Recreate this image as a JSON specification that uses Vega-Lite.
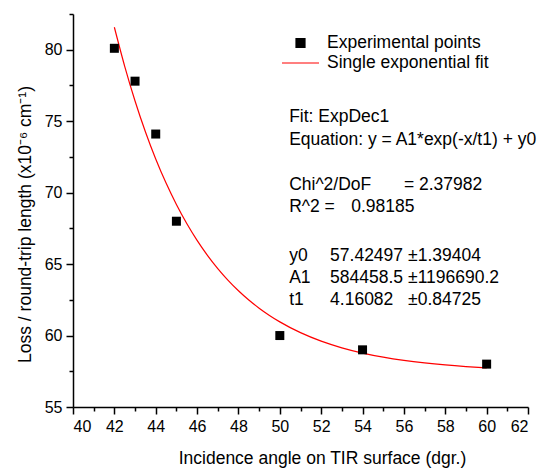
{
  "$schema": "https://vega.github.io/schema/vega-lite/v6.json",
  "width": 455,
  "height": 393,
  "autosize": {"type": "none"},
  "padding": {"left": 73, "top": 14, "right": 18, "bottom": 62},
  "background": "white",
  "config": {
    "view": {"stroke": null},
    "font": "Liberation Sans",
    "axis": {
      "grid": false,
      "domainColor": "black",
      "domainWidth": 1.5,
      "tickColor": "black",
      "tickWidth": 1.5,
      "labelColor": "black",
      "titleColor": "black",
      "labelFont": "Liberation Sans",
      "titleFont": "Liberation Sans",
      "labelFontSize": 16,
      "titleFontSize": 17.5,
      "titleFontWeight": "normal"
    },
    "legend": {
      "padding": 0,
      "labelFont": "Liberation Sans",
      "labelFontSize": 17.5,
      "labelColor": "black",
      "labelOffset": 7,
      "labelLimit": 0,
      "clipHeight": 18,
      "rowPadding": 2,
      "symbolStrokeWidth": 1.2
    }
  },
  "datasets": {
    "points": [
      {"x": 42, "y": 80.1, "series": "Experimental points"},
      {"x": 43, "y": 77.8, "series": "Experimental points"},
      {"x": 44, "y": 74.1, "series": "Experimental points"},
      {"x": 45, "y": 68.0, "series": "Experimental points"},
      {"x": 50, "y": 60.0, "series": "Experimental points"},
      {"x": 54, "y": 59.0, "series": "Experimental points"},
      {"x": 60, "y": 58.0, "series": "Experimental points"}
    ],
    "fit": [
      {"x": 42, "y": 81.574, "series": "Single exponential fit"},
      {"x": 42.5, "y": 78.84, "series": "Single exponential fit"},
      {"x": 43, "y": 76.415, "series": "Single exponential fit"},
      {"x": 43.5, "y": 74.265, "series": "Single exponential fit"},
      {"x": 44, "y": 72.358, "series": "Single exponential fit"},
      {"x": 44.5, "y": 70.667, "series": "Single exponential fit"},
      {"x": 45, "y": 69.168, "series": "Single exponential fit"},
      {"x": 45.5, "y": 67.838, "series": "Single exponential fit"},
      {"x": 46, "y": 66.659, "series": "Single exponential fit"},
      {"x": 46.5, "y": 65.614, "series": "Single exponential fit"},
      {"x": 47, "y": 64.686, "series": "Single exponential fit"},
      {"x": 47.5, "y": 63.864, "series": "Single exponential fit"},
      {"x": 48, "y": 63.135, "series": "Single exponential fit"},
      {"x": 48.5, "y": 62.489, "series": "Single exponential fit"},
      {"x": 49, "y": 61.915, "series": "Single exponential fit"},
      {"x": 49.5, "y": 61.407, "series": "Single exponential fit"},
      {"x": 50, "y": 60.956, "series": "Single exponential fit"},
      {"x": 51, "y": 60.202, "series": "Single exponential fit"},
      {"x": 52, "y": 59.608, "series": "Single exponential fit"},
      {"x": 53, "y": 59.142, "series": "Single exponential fit"},
      {"x": 54, "y": 58.775, "series": "Single exponential fit"},
      {"x": 55, "y": 58.487, "series": "Single exponential fit"},
      {"x": 56, "y": 58.26, "series": "Single exponential fit"},
      {"x": 57, "y": 58.082, "series": "Single exponential fit"},
      {"x": 58, "y": 57.941, "series": "Single exponential fit"},
      {"x": 59, "y": 57.831, "series": "Single exponential fit"},
      {"x": 60, "y": 57.744, "series": "Single exponential fit"}
    ],
    "notes": [
      {"text": "Fit: ExpDec1", "x": 50.45, "y": 75.3},
      {"text": "Equation: y = A1*exp(-x/t1) + y0", "x": 50.45, "y": 73.7},
      {"text": "Chi^2/DoF", "x": 50.45, "y": 70.55},
      {"text": "= 2.37982", "x": 56.0, "y": 70.55},
      {"text": "R^2 =", "x": 50.45, "y": 69.0},
      {"text": "0.98185", "x": 53.45, "y": 69.0},
      {"text": "y0", "x": 50.45, "y": 65.57},
      {"text": "57.42497", "x": 52.43, "y": 65.57},
      {"text": "±1.39404", "x": 56.2, "y": 65.57},
      {"text": "A1", "x": 50.45, "y": 64.03},
      {"text": "584458.5", "x": 52.43, "y": 64.03},
      {"text": "±1196690.2", "x": 56.2, "y": 64.03},
      {"text": "t1", "x": 50.45, "y": 62.49},
      {"text": "4.16082", "x": 52.43, "y": 62.49},
      {"text": "±0.84725", "x": 56.2, "y": 62.49}
    ]
  },
  "encoding": {
    "x": {
      "field": "x",
      "type": "quantitative",
      "scale": {"domain": [40, 62], "nice": false, "zero": false},
      "axis": {
        "title": "Incidence angle on TIR surface (dgr.)",
        "values": [40,41,42,43,44,45,46,47,48,49,50,51,52,53,54,55,56,57,58,59,60,61,62],
        "labelExpr": "datum.value % 2 === 0 ? datum.label : ''",
        "tickSize": {"condition": {"test": "datum.value % 2 !== 0", "value": 4}, "value": 7},
        "labelPadding": 4,
        "titleX": 249,
        "titleY": 51,
        "titleBaseline": "middle"
      }
    },
    "y": {
      "field": "y",
      "type": "quantitative",
      "scale": {"domain": [55, 82.5], "nice": false, "zero": false},
      "axis": {
        "title": "Loss / round-trip length (x10⁻⁶ cm⁻¹)",
        "values": [55,57.5,60,62.5,65,67.5,70,72.5,75,77.5,80,82.5],
        "labelExpr": "datum.value % 5 === 0 ? datum.label : ''",
        "tickSize": {"condition": {"test": "datum.value % 5 !== 0", "value": 4}, "value": 7},
        "labelPadding": 4,
        "titleX": -48,
        "titleY": 210,
        "titleAngle": -90,
        "titleAlign": "center",
        "titleBaseline": "middle"
      }
    }
  },
  "layer": [
    {
      "data": {"name": "fit"},
      "mark": {"type": "line", "strokeWidth": 1.2, "interpolate": "monotone"},
      "encoding": {
        "color": {
          "field": "series",
          "type": "nominal",
          "scale": {"domain": ["Experimental points", "Single exponential fit"], "range": ["black", "#ff0000"]},
          "legend": {"title": null, "orient": "none", "legendX": 208, "legendY": 20}
        }
      }
    },
    {
      "data": {"name": "points"},
      "mark": {"type": "point", "filled": true, "opacity": 1},
      "encoding": {
        "color": {
          "field": "series",
          "type": "nominal",
          "scale": {"domain": ["Experimental points", "Single exponential fit"], "range": ["black", "#ff0000"]},
          "legend": {"title": null, "orient": "none", "legendX": 208, "legendY": 20}
        },
        "shape": {
          "field": "series",
          "type": "nominal",
          "scale": {"domain": ["Experimental points", "Single exponential fit"], "range": ["square", "stroke"]},
          "legend": {"title": null, "orient": "none", "legendX": 208, "legendY": 20}
        },
        "size": {
          "field": "series",
          "type": "nominal",
          "scale": {"domain": ["Experimental points", "Single exponential fit"], "range": [81, 1369]},
          "legend": {"title": null, "orient": "none", "legendX": 208, "legendY": 20}
        }
      }
    },
    {
      "data": {"name": "notes"},
      "mark": {"type": "text", "align": "left", "baseline": "middle", "font": "Liberation Sans", "fontSize": 17.5, "color": "black"},
      "encoding": {"text": {"field": "text"}}
    }
  ]
}
